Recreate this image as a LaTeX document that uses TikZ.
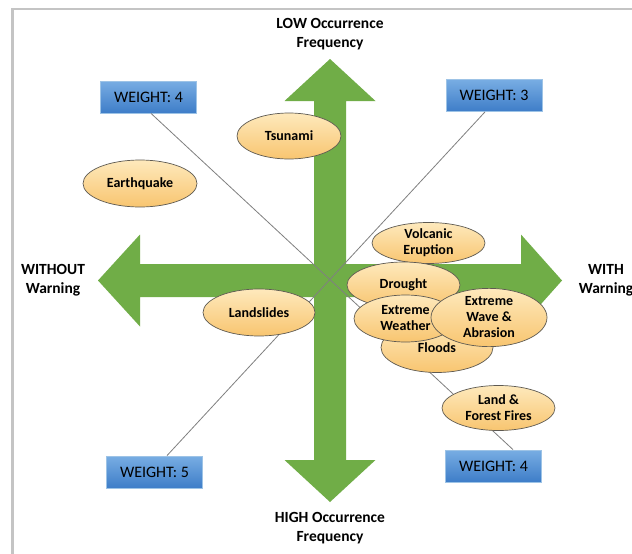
\documentclass[tikz,border=0pt]{standalone}
\usepackage{fontspec}
\setmainfont{Carlito}
\usetikzlibrary{shapes.geometric,calc}
\definecolor{arrgreen}{HTML}{70AD47}
\definecolor{framegray}{HTML}{C4C4C4}
\definecolor{boxTop}{HTML}{78ADE3}
\definecolor{boxBot}{HTML}{3E7DC8}
\definecolor{boxLine}{HTML}{9DC3E6}
\definecolor{ellTop}{HTML}{FEE9BC}
\definecolor{ellBot}{HTML}{F8C570}
\definecolor{ellLine}{HTML}{5E5A52}
\definecolor{diagLine}{HTML}{808080}
\tikzset{
  weightbox/.style={rectangle, draw=boxLine, line width=0.8pt, top color=boxTop, bottom color=boxBot,
    minimum width=96pt, minimum height=32pt, inner sep=0pt, font=\fontsize{16}{17}\selectfont},
  hazard/.style={ellipse, draw=ellLine, line width=0.7pt, top color=ellTop, bottom color=ellBot,
    inner sep=0pt, align=center, font=\bfseries\fontsize{14}{16}\selectfont},
  axislabel/.style={align=center, inner sep=0pt, font=\bfseries\fontsize{15.5}{19}\selectfont},
  diag/.style={draw=diagLine, line width=0.8pt}
}
\begin{document}
\begin{tikzpicture}[x=1pt,y=-1pt]
\useasboundingbox (0,0) rectangle (632,554);
\fill[white] (0,0) rectangle (632,554);
\draw[framegray, line width=2.5pt] (632,9) -- (12.5,9) -- (12.5,554);
% arrows
\fill[arrgreen] (330,59) -- (375.5,101) -- (346,101) -- (346,460) -- (375.5,460) -- (330,502)
  -- (284.5,460) -- (314,460) -- (314,101) -- (284.5,101) -- cycle;
\fill[arrgreen] (98,280.5) -- (140,234.5) -- (140,264) -- (521,264) -- (521,234.5) -- (562,280.5)
  -- (521,326.5) -- (521,297) -- (140,297) -- (140,326.5) -- cycle;
% axis labels
\node[axislabel] (low) at (330,34.5) {LOW Occurrence\\Frequency};
\node[axislabel] (high) at (330,528.5) {HIGH Occurrence\\Frequency};
\node[axislabel] (without) at (53,280.5) {WITHOUT\\Warning};
\node[axislabel] (with) at (606,280.5) {WITH\\Warning};
% weight boxes
\node[weightbox] (wTL) at (148.5,97) {WEIGHT: 4};
\node[weightbox] (wTR) at (494,95.5) {WEIGHT: 3};
\node[weightbox] (wBL) at (154.5,472) {WEIGHT: 5};
\node[weightbox] (wBR) at (493.5,466) {WEIGHT: 4};
% diagonal lines
\draw[diag] ([xshift=2.5pt]wTL.south) -- ([xshift=19.5pt]wBR.north);
\draw[diag] ([xshift=-9pt]wTR.south) -- ([xshift=12.5pt]wBL.north);
% hazards
\node[hazard, minimum width=104pt, minimum height=46pt] (tsunami) at (289,136) {Tsunami};
\node[hazard, minimum width=114pt, minimum height=47pt] (quake) at (140,183.5) {Earthquake};
\node[hazard, minimum width=112pt, minimum height=47pt] (slides) at (259,312.5) {Landslides};
\node[hazard, minimum width=113pt, minimum height=41pt] (volcano) at (428.5,243) {Volcanic\\Eruption};
\node[hazard, minimum width=113pt, minimum height=46pt] (drought) at (403.5,285) {Drought};
\node[hazard, minimum width=112pt, minimum height=50pt] (floods) at (437,347.5) {Floods};
\node[hazard, minimum width=103pt, minimum height=47pt] (weather) at (405.5,318.5) {Extreme\\Weather};
\node[hazard, minimum width=116pt, minimum height=48pt] (wave) at (489,317.5) {Extreme\\Wave \&\\Abrasion};
\node[hazard, minimum width=113pt, minimum height=45pt] (fires) at (498.5,408) {Land \&\\Forest Fires};
\end{tikzpicture}
\end{document}
